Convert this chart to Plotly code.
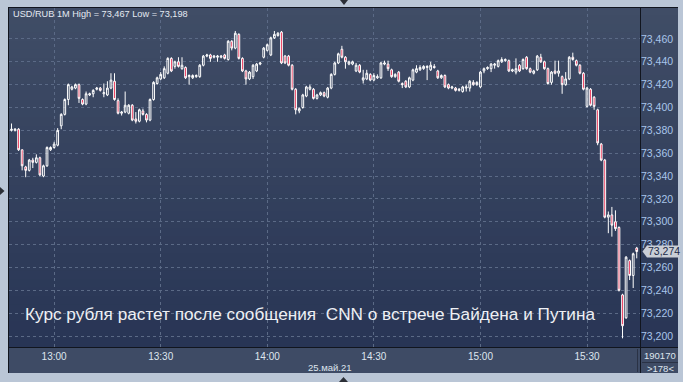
import plotly.graph_objects as go
import pandas as pd

# ---------------- data ----------------
times = pd.date_range("2021-05-25 12:47", periods=178, freq="min")

opens = [
    73.380, 73.380, 73.380, 73.381, 73.363, 73.348, 73.345, 73.354, 73.352, 73.356,
    73.340, 73.349, 73.363, 73.365, 73.367, 73.384, 73.394, 73.407, 73.416, 73.417,
    73.420, 73.407, 73.403, 73.411, 73.412, 73.416, 73.417, 73.412, 73.411, 73.417,
    73.423, 73.406, 73.395, 73.396, 73.395, 73.402, 73.390, 73.388, 73.397, 73.394,
    73.389, 73.407, 73.421, 73.425, 73.426, 73.430, 73.443, 73.436, 73.440, 73.434,
    73.435, 73.427, 73.426, 73.427, 73.427, 73.437, 73.445, 73.446, 73.444, 73.444,
    73.444, 73.446, 73.442, 73.458, 73.452, 73.464, 73.443, 73.432, 73.425, 73.427,
    73.432, 73.438, 73.444, 73.450, 73.446, 73.461, 73.463, 73.466, 73.445, 73.445,
    73.437, 73.416, 73.397, 73.400, 73.410, 73.416, 73.416, 73.408, 73.411, 73.413,
    73.409, 73.417, 73.429, 73.439, 73.451, 73.444, 73.438, 73.438, 73.432, 73.437,
    73.424, 73.425, 73.429, 73.424, 73.426, 73.426, 73.438, 73.438, 73.433, 73.427,
    73.431, 73.421, 73.423, 73.418, 73.424, 73.431, 73.433, 73.434, 73.435, 73.433,
    73.436, 73.432, 73.426, 73.428, 73.420, 73.417, 73.417, 73.415, 73.414, 73.417,
    73.417, 73.422, 73.420, 73.418, 73.432, 73.434, 73.434, 73.437, 73.436, 73.440,
    73.441, 73.441, 73.432, 73.431, 73.437, 73.434, 73.444, 73.434, 73.430, 73.433,
    73.444, 73.440, 73.434, 73.422, 73.432, 73.430, 73.427, 73.420, 73.425, 73.444,
    73.441, 73.437, 73.430, 73.401, 73.416, 73.409, 73.398, 73.368, 73.354, 73.304,
    73.306, 73.300, 73.295, 73.236, 73.216, 73.266, 73.253, 73.277,
]

highs = [
    73.381, 73.386, 73.382, 73.382, 73.363, 73.349, 73.355, 73.356, 73.359, 73.357,
    73.350, 73.366, 73.366, 73.370, 73.382, 73.395, 73.408, 73.421, 73.419, 73.421,
    73.421, 73.408, 73.414, 73.413, 73.416, 73.418, 73.418, 73.421, 73.423, 73.430,
    73.430, 73.408, 73.397, 73.414, 73.403, 73.403, 73.396, 73.399, 73.399, 73.395,
    73.408, 73.423, 73.427, 73.431, 73.436, 73.444, 73.444, 73.441, 73.444, 73.444,
    73.436, 73.429, 73.429, 73.429, 73.438, 73.446, 73.447, 73.447, 73.446, 73.446,
    73.446, 73.447, 73.459, 73.459, 73.467, 73.465, 73.444, 73.433, 73.432, 73.438,
    73.439, 73.440, 73.453, 73.456, 73.462, 73.467, 73.466, 73.467, 73.446, 73.446,
    73.438, 73.417, 73.400, 73.412, 73.419, 73.420, 73.417, 73.412, 73.414, 73.414,
    73.418, 73.430, 73.440, 73.448, 73.454, 73.445, 73.441, 73.441, 73.439, 73.438,
    73.433, 73.433, 73.430, 73.430, 73.429, 73.440, 73.441, 73.441, 73.434, 73.430,
    73.432, 73.422, 73.424, 73.427, 73.434, 73.437, 73.437, 73.437, 73.437, 73.440,
    73.438, 73.433, 73.429, 73.429, 73.421, 73.419, 73.418, 73.417, 73.419, 73.420,
    73.424, 73.424, 73.423, 73.432, 73.435, 73.436, 73.439, 73.439, 73.442, 73.444,
    73.443, 73.442, 73.434, 73.443, 73.438, 73.443, 73.445, 73.435, 73.433, 73.446,
    73.447, 73.441, 73.435, 73.432, 73.441, 73.441, 73.428, 73.431, 73.445, 73.448,
    73.442, 73.438, 73.431, 73.418, 73.417, 73.410, 73.399, 73.369, 73.355, 73.309,
    73.313, 73.310, 73.296, 73.237, 73.270, 73.267, 73.273, 73.278,
]

lows = [
    73.379, 73.379, 73.379, 73.362, 73.345, 73.339, 73.344, 73.347, 73.351, 73.340,
    73.339, 73.348, 73.362, 73.364, 73.366, 73.381, 73.393, 73.402, 73.415, 73.416,
    73.404, 73.402, 73.402, 73.410, 73.409, 73.415, 73.414, 73.409, 73.410, 73.416,
    73.406, 73.394, 73.393, 73.395, 73.394, 73.388, 73.386, 73.387, 73.393, 73.387,
    73.388, 73.406, 73.420, 73.424, 73.425, 73.429, 73.431, 73.434, 73.435, 73.433,
    73.425, 73.420, 73.425, 73.426, 73.426, 73.436, 73.444, 73.440, 73.443, 73.440,
    73.443, 73.442, 73.441, 73.450, 73.451, 73.442, 73.431, 73.420, 73.424, 73.425,
    73.431, 73.437, 73.443, 73.449, 73.445, 73.460, 73.462, 73.438, 73.438, 73.436,
    73.415, 73.394, 73.395, 73.399, 73.409, 73.415, 73.407, 73.407, 73.410, 73.409,
    73.408, 73.416, 73.428, 73.438, 73.443, 73.434, 73.437, 73.437, 73.431, 73.430,
    73.421, 73.424, 73.423, 73.423, 73.425, 73.425, 73.437, 73.432, 73.426, 73.426,
    73.422, 73.417, 73.417, 73.417, 73.423, 73.430, 73.432, 73.433, 73.424, 73.432,
    73.434, 73.425, 73.425, 73.417, 73.416, 73.416, 73.414, 73.414, 73.413, 73.414,
    73.414, 73.419, 73.419, 73.417, 73.430, 73.433, 73.431, 73.434, 73.435, 73.439,
    73.440, 73.431, 73.431, 73.429, 73.431, 73.433, 73.433, 73.430, 73.429, 73.432,
    73.439, 73.433, 73.420, 73.420, 73.429, 73.427, 73.412, 73.419, 73.424, 73.441,
    73.436, 73.429, 73.415, 73.400, 73.401, 73.398, 73.367, 73.353, 73.303, 73.290,
    73.287, 73.292, 73.239, 73.198, 73.215, 73.249, 73.242, 73.268,
]

closes = [
    73.380, 73.381, 73.381, 73.363, 73.349, 73.345, 73.354, 73.352, 73.356, 73.341,
    73.349, 73.365, 73.365, 73.368, 73.380, 73.394, 73.407, 73.420, 73.418, 73.420,
    73.408, 73.403, 73.412, 73.412, 73.415, 73.417, 73.415, 73.413, 73.417, 73.424,
    73.407, 73.395, 73.396, 73.402, 73.402, 73.389, 73.388, 73.398, 73.394, 73.389,
    73.407, 73.422, 73.426, 73.429, 73.434, 73.443, 73.432, 73.440, 73.436, 73.437,
    73.426, 73.428, 73.428, 73.428, 73.437, 73.445, 73.446, 73.443, 73.445, 73.445,
    73.445, 73.443, 73.458, 73.452, 73.465, 73.443, 73.432, 73.425, 73.431, 73.437,
    73.438, 73.439, 73.452, 73.455, 73.461, 73.464, 73.465, 73.439, 73.439, 73.437,
    73.416, 73.398, 73.399, 73.411, 73.418, 73.418, 73.408, 73.411, 73.413, 73.410,
    73.417, 73.429, 73.439, 73.447, 73.444, 73.440, 73.440, 73.440, 73.437, 73.431,
    73.426, 73.430, 73.424, 73.428, 73.427, 73.439, 73.439, 73.434, 73.427, 73.429,
    73.423, 73.420, 73.418, 73.426, 73.433, 73.434, 73.435, 73.436, 73.436, 73.437,
    73.435, 73.426, 73.428, 73.418, 73.417, 73.418, 73.415, 73.416, 73.418, 73.418,
    73.423, 73.420, 73.422, 73.431, 73.434, 73.435, 73.438, 73.438, 73.441, 73.442,
    73.442, 73.432, 73.433, 73.434, 73.432, 73.442, 73.434, 73.431, 73.432, 73.445,
    73.440, 73.434, 73.421, 73.431, 73.430, 73.432, 73.420, 73.425, 73.444, 73.442,
    73.437, 73.430, 73.416, 73.417, 73.402, 73.401, 73.369, 73.354, 73.304, 73.306,
    73.297, 73.294, 73.240, 73.209, 73.269, 73.253, 73.272, 73.274,
]

price_ticks = [73.200, 73.220, 73.240, 73.260, 73.280, 73.300, 73.320,
               73.340, 73.360, 73.380, 73.400, 73.420, 73.440, 73.460]
time_ticks = ["2021-05-25 13:00", "2021-05-25 13:30", "2021-05-25 14:00",
              "2021-05-25 14:30", "2021-05-25 15:00", "2021-05-25 15:30"]
time_labels = ["13:00", "13:30", "14:00", "14:30", "15:00", "15:30"]

header_text = "USD/RUB 1M High = 73,467 Low = 73,198"
caption_text = "Курс рубля растет после сообщения \u00a0CNN о встрече Байдена и Путина"
date_text = "25.май.21"
counter_top = "190170"
counter_bottom = ">178<"
last_label = "73,274"

# ---------------- figure ----------------
FONT = "Liberation Sans, Arial, sans-serif"
W, H = 683, 382
ML, MR, MT, MB = 9, 43, 8, 35
PW, PH = W - ML - MR, H - MT - MB


def px(x):
    return (x - ML) / PW


def py(y):
    return (H - MB - y) / PH


fig = go.Figure()
fig.add_trace(go.Candlestick(
    x=times, open=opens, high=highs, low=lows, close=closes,
    increasing=dict(line=dict(color="#ffffff", width=1), fillcolor="rgba(0,0,0,0)"),
    decreasing=dict(line=dict(color="#ffffff", width=1), fillcolor="#e8103a"),
    whiskerwidth=0, hoverinfo="skip", showlegend=False,
))

shapes = []
# gradient background of the dark panel (plot + right axis strip)
top_c = (64, 77, 102)
bot_c = (40, 53, 85)
N = 40
y_top, y_bot = py(7), py(H - MB)
for k in range(N):
    t = (k + 0.5) / N
    c = tuple(int(round(top_c[j] + (bot_c[j] - top_c[j]) * t)) for j in range(3))
    y0 = y_top - (y_top - y_bot) * k / N
    y1 = y_top - (y_top - y_bot) * (k + 1) / N
    shapes.append(dict(type="rect", xref="paper", yref="paper", layer="below",
                       x0=px(8), x1=px(678), y0=y1 - 0.002, y1=y0,
                       fillcolor="rgb(%d,%d,%d)" % c, line=dict(width=0)))
# bottom time strip
shapes.append(dict(type="rect", xref="paper", yref="paper", layer="below",
                   x0=px(8), x1=px(678), y0=py(373), y1=py(347),
                   fillcolor="#3e4b65", line=dict(width=0)))
# frame lines
line_col = "#11151e"
shapes += [
    dict(type="line", xref="paper", yref="paper", x0=px(8), x1=px(678), y0=py(7.5), y1=py(7.5),
         line=dict(color=line_col, width=1)),
    dict(type="line", xref="paper", yref="paper", x0=px(8.5), x1=px(8.5), y0=py(7), y1=py(373),
         line=dict(color=line_col, width=1)),
    dict(type="line", xref="paper", yref="paper", x0=px(8), x1=px(678), y0=py(347.5), y1=py(347.5),
         line=dict(color=line_col, width=1)),
    dict(type="line", xref="paper", yref="paper", x0=px(640.5), x1=px(640.5), y0=py(7), y1=py(373),
         line=dict(color=line_col, width=1)),
    dict(type="line", xref="paper", yref="paper", x0=px(637.5), x1=px(637.5), y0=py(349), y1=py(372),
         line=dict(color="#2a3245", width=1)),
    dict(type="line", xref="paper", yref="paper", x0=px(642), x1=px(678), y0=py(362.5), y1=py(362.5),
         line=dict(color="#2a3245", width=1)),
]
# small navigation triangles in the outer border
tri_col = "#2b2f36"
shapes += [
    dict(type="path", xref="paper", yref="paper",
         path="M %f %f L %f %f L %f %f Z" % (px(340), py(0), px(348), py(0), px(344), py(5)),
         fillcolor=tri_col, line=dict(width=0)),
    dict(type="path", xref="paper", yref="paper",
         path="M %f %f L %f %f L %f %f Z" % (px(339), py(382), px(348), py(382), px(343.5), py(377)),
         fillcolor=tri_col, line=dict(width=0)),
    dict(type="path", xref="paper", yref="paper",
         path="M %f %f L %f %f L %f %f Z" % (px(0), py(187), px(0), py(195), px(4.5), py(191)),
         fillcolor=tri_col, line=dict(width=0)),
]
# last price marker
shapes.append(dict(type="path", xref="paper", yref="y", xsizemode="pixel", ysizemode="pixel",
                   xanchor=1, yanchor=closes[-1],
                   path="M 2.5 0 L 7 6 L 40 6 L 40 -6 L 7 -6 Z",
                   fillcolor="#c9ced6", line=dict(width=0), layer="above"))

annotations = [
    dict(text=header_text, xref="paper", yref="paper", x=px(10.5), y=py(14.5),
         xanchor="left", yanchor="middle", showarrow=False,
         font=dict(family=FONT, size=9.2, color="#e4eaf2")),
    dict(text=caption_text, xref="paper", yref="paper", x=px(23), y=py(313.5),
         xanchor="left", yanchor="middle", showarrow=False,
         font=dict(family=FONT, size=17.2, color="#eef0f4")),
    dict(text=date_text, xref="paper", yref="paper", x=px(330), y=py(367.5),
         xanchor="center", yanchor="middle", showarrow=False,
         font=dict(family=FONT, size=9.5, color="#dfe6ef")),
    dict(text=counter_top, xref="paper", yref="paper", x=px(660), y=py(355.5),
         xanchor="center", yanchor="middle", showarrow=False,
         font=dict(family=FONT, size=9.5, color="#dfe6ef")),
    dict(text=counter_bottom, xref="paper", yref="paper", x=px(660), y=py(368),
         xanchor="center", yanchor="middle", showarrow=False,
         font=dict(family=FONT, size=9.5, color="#dfe6ef")),
    dict(text=last_label, xref="paper", yref="y", x=px(646), y=closes[-1],
         xanchor="left", yanchor="middle", showarrow=False,
         font=dict(family=FONT, size=10.5, color="#1c2a48")),
]

fig.update_layout(
    width=W, height=H,
    margin=dict(l=ML, r=MR, t=MT, b=MB, pad=0),
    paper_bgcolor="#bac6d6",
    plot_bgcolor="rgba(0,0,0,0)",
    separators=", ",
    showlegend=False,
    shapes=shapes,
    annotations=annotations,
    xaxis=dict(
        type="date",
        range=["2021-05-25 12:47:18", "2021-05-25 15:44:55"],
        rangeslider=dict(visible=False),
        tickvals=time_ticks, ticktext=time_labels,
        showgrid=True, gridcolor="#5b6a86", griddash="3px,3px", gridwidth=1,
        zeroline=False, showline=False, ticks="",
        ticklabelstandoff=2,
        tickfont=dict(family=FONT, size=10, color="#dfe6ef"),
        fixedrange=True,
    ),
    yaxis=dict(
        side="right",
        range=[73.1904, 73.4871],
        tickvals=price_ticks, tickformat=".3f",
        showgrid=True, gridcolor="#5b6a86", griddash="3px,3px", gridwidth=1,
        zeroline=False, showline=False, ticks="",
        tickfont=dict(family=FONT, size=10.5, color="#a9c6ea"),
        fixedrange=True,
    ),
)

fig.write_html("out.html", config=dict(displayModeBar=False, staticPlot=True))
